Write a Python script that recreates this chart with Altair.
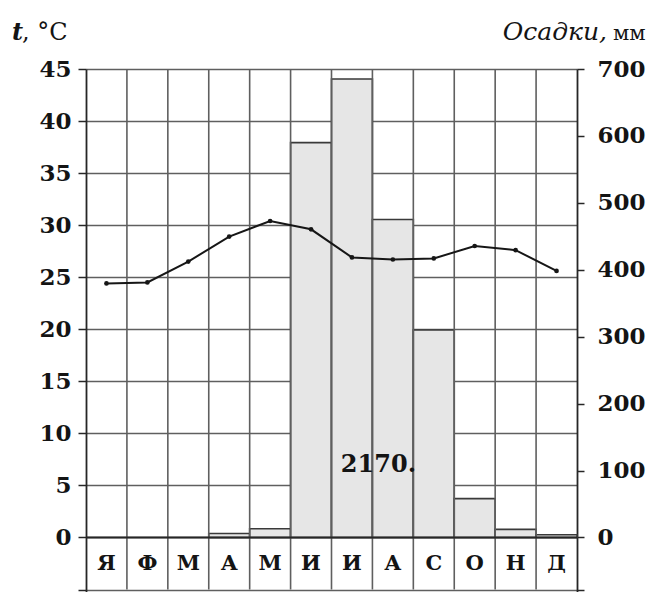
import altair as alt
import pandas as pd

# ---- data ----
months = ["Я", "Ф", "М", "А", "М", "И", "И", "А", "С", "О", "Н", "Д"]
temperature = [24.4, 24.5, 26.5, 28.9, 30.4, 29.6, 26.9, 26.7, 26.8, 28.0, 27.6, 25.6]
precipitation = [0, 0, 0, 6, 13, 590, 685, 475, 310, 58, 12, 4]
annual_total = ["2170."]
t_ticks = [-5, 0, 5, 10, 15, 20, 25, 30, 35, 40, 45]
p_ticks = [-77.78, 0, 100, 200, 300, 400, 500, 600, 700]
boundaries = list(range(1, 12))

T_MIN, T_MAX = -5.24, 45
P_MAX = 700
P_MIN = T_MIN * P_MAX / T_MAX

df = pd.DataFrame({"idx": list(range(12)), "month": months,
                   "t": temperature, "p": precipitation})
bdf = pd.DataFrame({"b": boundaries})

FONT = "DejaVu Serif"
GRID = "#5f5f5f"
DARK = "#262626"
TXT = "#141414"

xscale = alt.Scale(domain=[0, 12], nice=False, zero=False)
tscale = alt.Scale(domain=[T_MIN, T_MAX], nice=False, zero=False)
pscale = alt.Scale(domain=[P_MIN, P_MAX], nice=False, zero=False)

left_axis = alt.Axis(orient="left", values=t_ticks,
                     labelExpr="datum.value < 0 ? '' : datum.label",
                     grid=True, gridColor=GRID, gridWidth=1.6,
                     tickSize=8, tickColor=DARK, tickWidth=1.5,
                     domainColor=DARK, domainWidth=1.8,
                     labelFont=FONT, labelFontSize=23, labelFontWeight="bold",
                     labelColor=TXT, labelPadding=7, title=None)
right_axis = alt.Axis(orient="right", values=p_ticks,
                      labelExpr="datum.value < 0 ? '' : datum.label",
                      grid=False, tickSize=7, tickColor=DARK, tickWidth=1.5,
                      domainColor=DARK, domainWidth=1.8,
                      labelFont=FONT, labelFontSize=23, labelFontWeight="bold",
                      labelColor=TXT, labelPadding=13, title=None)

base = alt.Chart(df).transform_calculate(
    x0="datum.idx", x1="datum.idx + 1", xm="datum.idx + 0.5", pz="0")

bars = base.transform_filter("datum.p > 0").mark_rect(
    fill="#e6e6e6", stroke="#3a3a3a", strokeWidth=1.6).encode(
    x=alt.X("x0:Q", scale=xscale, axis=None),
    x2="x1:Q",
    y=alt.Y("p:Q", scale=pscale, axis=right_axis),
    y2="pz:Q",
)

vlines = alt.Chart(bdf).mark_rule(color=GRID, strokeWidth=1.6).encode(
    x=alt.X("b:Q", scale=xscale, axis=None),
    y=alt.Y(datum=-5, scale=tscale, axis=left_axis),
    y2=alt.Y2(datum=45),
)

zero_line = alt.Chart(bdf).mark_rule(color=DARK, strokeWidth=2).encode(
    x=alt.X(datum=0, scale=xscale, axis=None),
    x2=alt.X2(datum=12),
    y=alt.Y(datum=0, scale=tscale, axis=left_axis),
).transform_filter("datum.b == 1")

line = base.mark_line(color="#161616", strokeWidth=2).encode(
    x=alt.X("xm:Q", scale=xscale, axis=None),
    y=alt.Y("t:Q", scale=tscale, axis=left_axis),
)
pts = base.mark_point(filled=True, color="#161616", size=22, opacity=1).encode(
    x=alt.X("xm:Q", scale=xscale, axis=None),
    y=alt.Y("t:Q", scale=tscale, axis=left_axis),
)

mlabels = base.mark_text(font=FONT, fontSize=21, fontWeight="bold",
                         color=TXT, baseline="middle", dy=1).encode(
    x=alt.X("xm:Q", scale=xscale, axis=None),
    y=alt.Y(datum=-2.5, scale=tscale, axis=left_axis),
    text="month:N",
)

total = alt.Chart(pd.DataFrame({"s": annual_total})).mark_text(
    font=FONT, fontSize=24, fontWeight="bold", color=TXT,
    baseline="middle", dx=6).encode(
    x=alt.X(datum=7, scale=xscale, axis=None),
    y=alt.Y(datum=7, scale=tscale, axis=left_axis),
    text="s:N",
)

def label(txt, x, y, align, style="normal", size=24, weight="bold"):
    return alt.Chart(pd.DataFrame({"s": [txt]})).mark_text(
        font=FONT, fontSize=size, fontStyle=style, fontWeight=weight,
        align=align, baseline="alphabetic", color=TXT).encode(
        x=alt.value(x), y=alt.value(y), text="s:N")

titles = alt.layer(
    label("t", -74, -29, "left", "italic"),
    label(", °C", -64, -29, "left", weight="normal"),
    label("Осадки,", 521, -29, "right", "italic", size=25, weight="normal"),
    label("мм", 527, -29, "left", size=21, weight="normal"),
)

temp_layer = alt.layer(vlines, zero_line, line, pts, mlabels, total)

chart = alt.layer(bars, temp_layer, titles).resolve_scale(
    y="independent"
).properties(
    width=491, height=523,
    autosize=alt.AutoSizeParams(type="none"),
    padding={"left": 78, "top": 61, "right": 71, "bottom": 0},
).configure_view(stroke=None).configure(background="white")

chart.save("out.html", embed_options={"renderer": "svg", "actions": False})
